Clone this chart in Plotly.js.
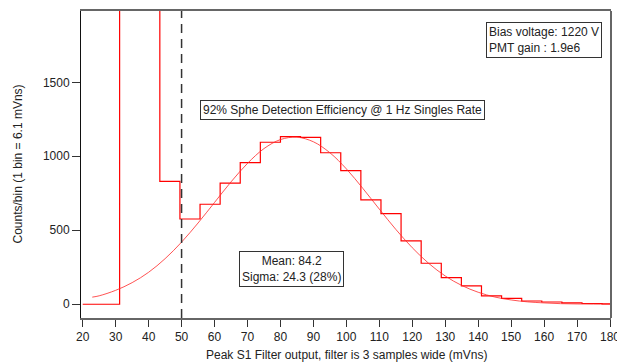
<!DOCTYPE html>
<html>
<head>
<meta charset="utf-8">
<script src="https://cdn.plot.ly/plotly-3.0.1.min.js"></script>
<style>html,body{margin:0;padding:0;background:#fff;}#chart{width:617px;height:362px;}</style>
</head>
<body>
<div id="chart"></div>
<script>
// Histogram: left bin edges (mVns) and counts per bin
const binLeft = [20, 31.2, 37.3, 43.4, 49.5, 55.6, 61.7, 67.8, 73.9, 80.0, 86.1, 92.2, 98.3, 104.4, 110.5, 116.6, 122.7, 128.8, 134.9, 141.0, 147.1, 153.2, 159.3, 165.4, 171.5, 177.6];
const binCounts = [0, 2600, 2400, 830, 576, 676, 818, 957, 1095, 1133, 1128, 1024, 903, 705, 612, 428, 277, 180, 124, 56, 40, 22, 15, 9, 5, 3];
const lastBinRight = 183.7;

// Gaussian fit curve
const fitX = [22.9, 25, 30, 35, 40, 45, 50, 55, 60, 65, 70, 75, 80, 85, 90, 95, 100, 105, 110, 115, 120, 125, 130, 135, 140, 145, 150, 155, 160, 165, 170, 175, 180];
const fitY = [48, 57, 94, 146, 216, 308, 420, 549, 688, 827, 952, 1052, 1113, 1129, 1098, 1024, 915, 783, 643, 506, 382, 276, 191, 127, 81, 49, 29, 16, 9, 4, 2, 1, 0.5];

const xTicks = [20, 30, 40, 50, 60, 70, 80, 90, 100, 110, 120, 130, 140, 150, 160, 170, 180];
const yTicks = [0, 500, 1000, 1500];
const cutX = 50;

const xTitle = "Peak S1 Filter output, filter is 3 samples wide (mVns)";
const yTitle = "Counts/bin (1 bin = 6.1 mVns)";
const effText = "92% Sphe Detection Efficiency @ 1 Hz Singles Rate";
const pmtText = "Bias voltage: 1220 V<br>PMT gain : 1.9e6";
const fitText = "Mean: 84.2<br>Sigma: 24.3 (28%)";

const histX = binLeft.concat([lastBinRight]);
const histY = binCounts.concat([binCounts[binCounts.length - 1]]);

const font = {family: "Liberation Sans, Arial, sans-serif", size: 12, color: "#222"};

const traces = [
  {x: histX, y: histY, type: "scatter", mode: "lines",
   line: {shape: "hv", color: "rgb(255,0,0)", width: 1.2}, hoverinfo: "skip"},
  {x: fitX, y: fitY, type: "scatter", mode: "lines",
   line: {shape: "spline", color: "rgba(255,40,40,0.8)", width: 1}, hoverinfo: "skip"}
];

const layout = {
  width: 617, height: 362,
  margin: {l: 81, r: 5.5, t: 11, b: 44},
  paper_bgcolor: "#fff", plot_bgcolor: "#fff",
  showlegend: false,
  font: font,
  xaxis: {
    range: [19.48, 180.3], tickvals: xTicks, ticktext: xTicks.map(String),
    ticks: "outside", ticklen: 7, tickwidth: 1, tickcolor: "#333",
    ticklabeloverflow: "allow",
    showline: true, linecolor: "#666", linewidth: 2, mirror: true,
    showgrid: false, zeroline: false, tickfont: font
  },
  yaxis: {
    range: [-93, 1982], tickvals: yTicks, ticktext: yTicks.map(String),
    ticks: "outside", ticklen: 8, tickwidth: 1, tickcolor: "#333",
    showline: true, linecolor: "#111", linewidth: 1, mirror: false,
    showgrid: false, zeroline: false, tickfont: font
  },
  shapes: [
    {type: "line", xref: "x", yref: "paper", x0: cutX, x1: cutX, y0: 0, y1: 1,
     line: {color: "#333", width: 1.5, dash: "9px,6px"}},
    {type: "line", xref: "paper", yref: "paper", x0: 1, x1: 1, y0: 0, y1: 1,
     line: {color: "#666", width: 2}}
  ],
  annotations: [
    {text: effText, xref: "paper", yref: "paper", x: 0.494, y: 0.676,
     xanchor: "center", yanchor: "middle", showarrow: false,
     bordercolor: "#333", borderwidth: 1, borderpad: 2, bgcolor: "#fff", font: font},
    {text: pmtText, xref: "paper", yref: "paper", x: 0.764, y: 0.904,
     xanchor: "left", yanchor: "middle", align: "left", showarrow: false,
     bordercolor: "#333", borderwidth: 1, borderpad: 2, bgcolor: "#fff", font: font},
    {text: fitText, xref: "paper", yref: "paper", x: 0.397, y: 0.159,
     xanchor: "center", yanchor: "middle", align: "center", showarrow: false,
     bordercolor: "#333", borderwidth: 1, borderpad: 2, bgcolor: "#fff", font: font},
    {text: yTitle, xref: "paper", yref: "paper", x: 0, y: 0.5, xshift: -64,
     xanchor: "center", yanchor: "middle", textangle: -90, showarrow: false, font: font},
    {text: xTitle, xref: "paper", yref: "paper", x: 0.5, y: 0, yshift: -37,
     xanchor: "center", yanchor: "middle", showarrow: false, font: font}
  ]
};

Plotly.newPlot("chart", traces, layout, {staticPlot: true, displayModeBar: false});
</script>
</body>
</html>
